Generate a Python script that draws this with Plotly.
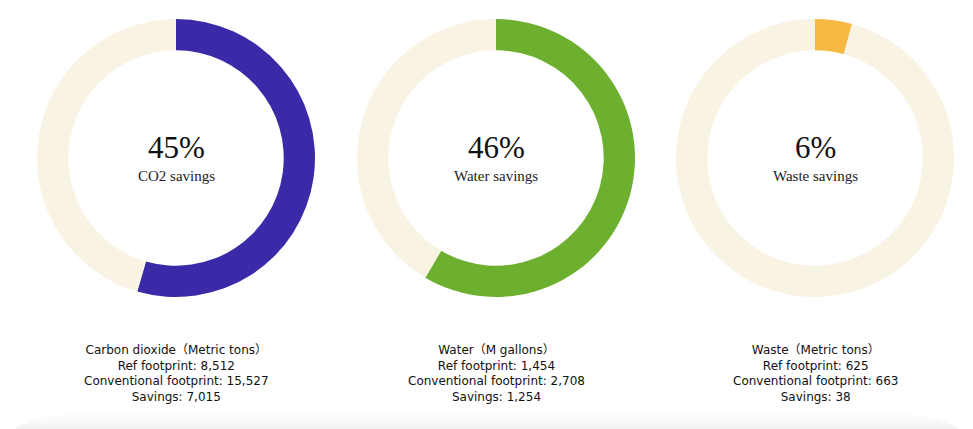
import plotly.graph_objects as go

# Savings summary per resource
resources = ["CO2", "Water", "Waste"]
center_captions = ["CO2 savings", "Water savings", "Waste savings"]
headings = ["Carbon dioxide（Metric tons）", "Water（M gallons）", "Waste（Metric tons）"]
ref_footprint = [8512, 1454, 625]
conventional_footprint = [15527, 2708, 663]
savings = [7015, 1254, 38]

# Share of each ring drawn in the accent colour (percent of full circle)
ring_filled = [54.5, 58.5, 4.3]

colors = ["#3a2aa8", "#6daf2e", "#f6b944"]
track_color = "#f8f3e3"

W, H = 973, 429
centers_x = [176, 496, 815]
center_y = 158
radius = 139

fig = go.Figure()

for i, name in enumerate(resources):
    cx = centers_x[i]
    fig.add_trace(go.Pie(
        values=[ring_filled[i], 100 - ring_filled[i]],
        labels=[name + " filled", name + " rest"],
        marker=dict(colors=[colors[i], track_color], line=dict(width=0)),
        hole=0.775,
        sort=False,
        direction="clockwise",
        rotation=0,
        textinfo="none",
        hoverinfo="skip",
        showlegend=False,
        domain=dict(
            x=[(cx - radius) / W, (cx + radius) / W],
            y=[1 - (center_y + radius) / H, 1 - (center_y - radius) / H],
        ),
    ))

    pct = round(100 * savings[i] / conventional_footprint[i])
    fig.add_annotation(
        x=cx / W, y=1 - 147 / H, xref="paper", yref="paper",
        text=f"{pct}%", showarrow=False,
        font=dict(family="Liberation Serif", size=31, color="#111111"),
        xanchor="center", yanchor="middle",
    )
    fig.add_annotation(
        x=cx / W, y=1 - 176 / H, xref="paper", yref="paper",
        text=center_captions[i], showarrow=False,
        font=dict(family="Liberation Serif", size=15, color="#222222"),
        xanchor="center", yanchor="middle",
    )

    lines = [
        headings[i],
        f"Ref footprint: {ref_footprint[i]:,}",
        f"Conventional footprint: {conventional_footprint[i]:,}",
        f"Savings: {savings[i]:,}",
    ]
    fig.add_annotation(
        x=cx / W, y=1 - 373 / H, xref="paper", yref="paper",
        text="<br>".join(lines), showarrow=False, align="center",
        font=dict(family="DejaVu Sans, Noto Sans CJK JP", size=12, color="#111111"),
        xanchor="center", yanchor="middle", borderpad=0,
    )

# soft shadow along the bottom edge of the card
shadow_steps = [
    (412, 60, "#fefefe"), (415, 45, "#fcfcfc"), (418, 34, "#fafafa"),
    (421, 26, "#f8f8f8"), (424, 20, "#f5f5f5"), (427, 16, "#f3f3f3"),
]
for y0, inset, col in shadow_steps:
    fig.add_shape(
        type="rect", xref="paper", yref="paper",
        x0=inset / W, x1=(W - inset) / W, y0=0, y1=1 - y0 / H,
        fillcolor=col, line=dict(width=0), layer="below",
    )

fig.update_layout(
    width=W, height=H,
    margin=dict(l=0, r=0, t=0, b=0),
    paper_bgcolor="white",
    plot_bgcolor="white",
)

fig.write_html("out.html")
